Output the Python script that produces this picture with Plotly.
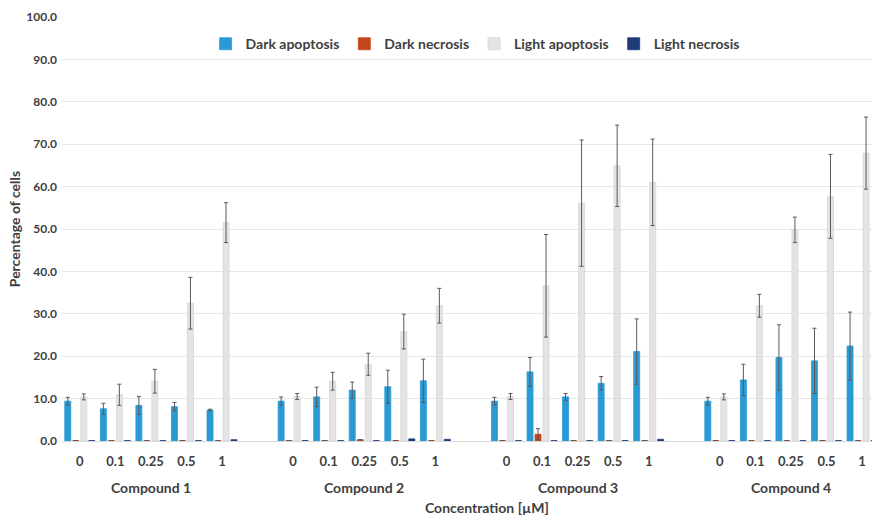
import plotly.graph_objects as go

compounds = ["Compound 1", "Compound 2", "Compound 3", "Compound 4"]
concentrations = ["0", "0.1", "0.25", "0.5", "1"]

dark_apoptosis = [9.4, 7.6, 8.4, 8.1, 7.3,
                  9.4, 10.4, 12.0, 12.8, 14.2,
                  9.4, 16.3, 10.4, 13.6, 21.1,
                  9.4, 14.4, 19.7, 18.9, 22.4]
dark_apoptosis_err = [0.9, 1.3, 2.1, 1.0, 0.2,
                      1.0, 2.3, 1.9, 3.9, 5.1,
                      0.9, 3.4, 0.8, 1.6, 7.7,
                      0.9, 3.7, 7.7, 7.7, 8.0]
dark_necrosis = [0.1, 0.1, 0.1, 0.1, 0.1,
                 0.1, 0.1, 0.3, 0.1, 0.1,
                 0.1, 1.6, 0.1, 0.1, 0.1,
                 0.1, 0.1, 0.1, 0.1, 0.1]
dark_necrosis_err = [0, 0, 0, 0, 0,
                     0, 0, 0, 0, 0,
                     0, 1.3, 0, 0, 0,
                     0, 0, 0, 0, 0]
light_apoptosis = [10.4, 10.9, 14.1, 32.5, 51.5,
                   10.5, 14.1, 18.1, 25.8, 31.9,
                   10.5, 36.6, 56.1, 64.9, 61.0,
                   10.4, 31.9, 49.8, 57.7, 67.9]
light_apoptosis_err = [0.7, 2.5, 2.8, 6.1, 4.7,
                       0.7, 2.1, 2.6, 4.1, 4.1,
                       0.7, 12.1, 14.9, 9.6, 10.2,
                       0.7, 2.7, 3.0, 9.9, 8.5]
light_necrosis = [0.1, 0.1, 0.1, 0.1, 0.3,
                  0.1, 0.1, 0.1, 0.5, 0.4,
                  0.1, 0.1, 0.1, 0.1, 0.4,
                  0.1, 0.1, 0.1, 0.1, 0.1]

y_ticks = [0, 10, 20, 30, 40, 50, 60, 70, 80, 90, 100]

# positions: one empty slot between compound groups
xpos = [g * 6 + i for g in range(len(compounds)) for i in range(len(concentrations))]
xlabels = [c for _ in compounds for c in concentrations]
group_centers = [g * 6 + 2 for g in range(len(compounds))]

FONT = "Lato"
TXT = "#404040"
ERR = "#5a5a5a"

series = [
    ("Dark apoptosis", dark_apoptosis, dark_apoptosis_err, "#2a9ad6", "#2a9ad6"),
    ("Dark necrosis", dark_necrosis, dark_necrosis_err, "#c5461c", "#c5461c"),
    ("Light apoptosis", light_apoptosis, light_apoptosis_err, "#e4e4e4", "#d6d6d6"),
    ("Light necrosis", light_necrosis, None, "#1f3d7a", "#1f3d7a"),
]

fig = go.Figure()
for name, vals, err, col, lcol in series:
    kw = {}
    if err is not None:
        kw["error_y"] = dict(type="data", array=err, visible=True,
                             color=ERR, thickness=1, width=2)
    fig.add_trace(go.Bar(
        name=name, x=xpos, y=vals,
        marker=dict(color=col, line=dict(color=lcol, width=0.8)),
        **kw
    ))

annotations = []
for c, gx in zip(compounds, group_centers):
    annotations.append(dict(text=c, x=gx, y=0, xref="x", yref="paper",
                            yshift=-46, showarrow=False, yanchor="middle",
                            font=dict(family=FONT, size=14, color=TXT, weight="bold")))
annotations.append(dict(text="Concentration [µM]", x=0.525, y=0, xref="paper", yref="paper",
                        yshift=-66, showarrow=False, yanchor="middle",
                        font=dict(family=FONT, size=14, color=TXT, weight="bold")))

fig.update_layout(
    width=872, height=515,
    margin=dict(l=62, r=0, t=17, b=74),
    paper_bgcolor="white", plot_bgcolor="white",
    barmode="group", bargap=0.1, bargroupgap=0.25,
    font=dict(family=FONT, color=TXT),
    showlegend=True,
    legend=dict(orientation="h", x=0.51, xanchor="center", y=0.936, yanchor="middle",
                font=dict(family=FONT, size=14, color=TXT, weight="bold"),
                bgcolor="rgba(0,0,0,0)", traceorder="normal"),
    xaxis=dict(range=[-0.5, 22.28], tickmode="array", tickvals=xpos, ticktext=xlabels,
               showgrid=False, zeroline=False, showline=True, linecolor="#d9d9d9",
               ticks="", ticklabelstandoff=8,
               tickfont=dict(family=FONT, size=13, color=TXT, weight="bold")),
    yaxis=dict(range=[0, 100], tickmode="array", tickvals=y_ticks,
               ticktext=[f"{v:.1f}" for v in y_ticks],
               showgrid=True, gridcolor="#e6e6e6", gridwidth=1, zeroline=False,
               showline=False, ticks="", ticklen=0, ticklabelstandoff=4,
               tickfont=dict(family=FONT, size=12, color=TXT, weight="bold"),
               title=dict(text="Percentage of cells", standoff=2,
                          font=dict(family=FONT, size=14, color=TXT, weight="bold"))),
    annotations=annotations,
)

fig.write_html("out.html")
